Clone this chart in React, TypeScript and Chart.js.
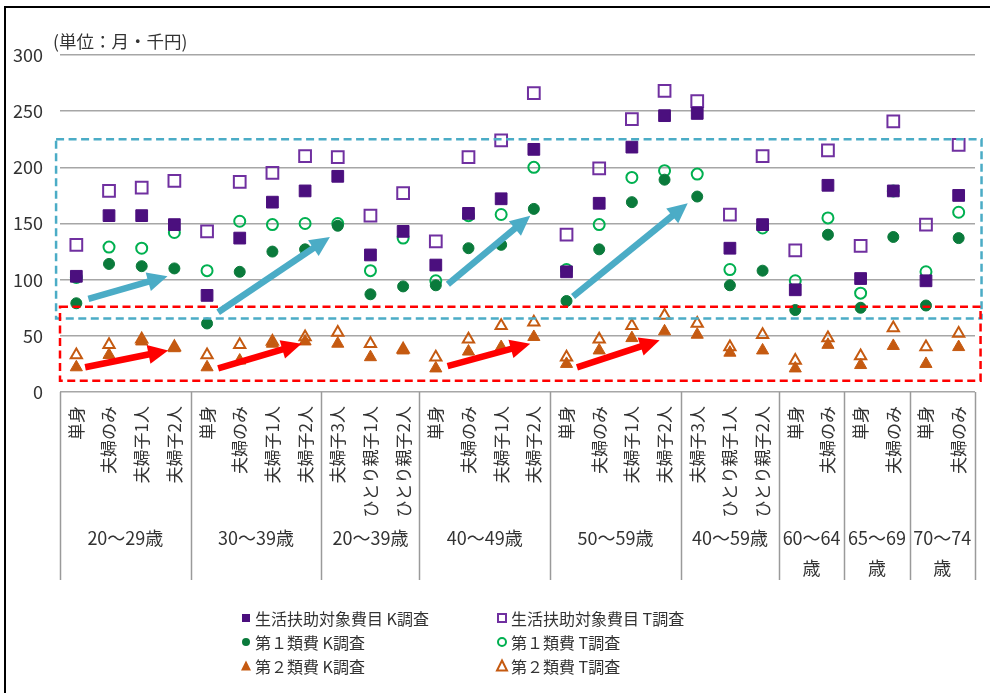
import React, { useEffect, useRef } from "react";
import { Chart, registerables } from "chart.js";

Chart.register(...registerables);

const categories = [
  "単身", "夫婦のみ", "夫婦子1人", "夫婦子2人",
  "単身", "夫婦のみ", "夫婦子1人", "夫婦子2人",
  "夫婦子3人", "ひとり親子1人", "ひとり親子2人",
  "単身", "夫婦のみ", "夫婦子1人", "夫婦子2人",
  "単身", "夫婦のみ", "夫婦子1人", "夫婦子2人",
  "夫婦子3人", "ひとり親子1人", "ひとり親子2人",
  "単身", "夫婦のみ",
  "単身", "夫婦のみ",
  "単身", "夫婦のみ",
];
const groupNames = ["20～29歳", "30～39歳", "20～39歳", "40～49歳", "50～59歳", "40～59歳", "60～64歳", "65～69歳", "70～74歳"];
const groupSizes = [4, 4, 3, 4, 4, 3, 2, 2, 2];

const seriesNames = [
  "生活扶助対象費目 K調査",
  "生活扶助対象費目 T調査",
  "第１類費 K調査",
  "第１類費 T調査",
  "第２類費 K調査",
  "第２類費 T調査",
];

const livingK = [103, 157, 157, 149, 86, 137, 169, 179, 192, 122, 143, 113, 159, 172, 216, 107, 168, 218, 246, 248, 128, 149, 91, 184, 101, 179, 99, 175];
const livingT = [131, 179, 182, 188, 143, 187, 195, 210, 209, 157, 177, 134, 209, 224, 266, 140, 199, 243, 268, 259, 158, 210, 126, 215, 130, 241, 149, 220];
const class1K = [79, 114, 112, 110, 61, 107, 125, 127, 148, 87, 94, 95, 128, 131, 163, 81, 127, 169, 189, 174, 95, 108, 73, 140, 75, 138, 77, 137];
const class1T = [102, 129, 128, 142, 108, 152, 149, 150, 150, 108, 137, 99, 157, 158, 200, 109, 149, 191, 197, 194, 109, 146, 99, 155, 88, 179, 107, 160];
const class2K = [22, 33, 45, 39, 22, 28, 43, 45, 43, 31, 37, 21, 36, 40, 49, 25, 37, 48, 54, 51, 35, 37, 21, 42, 24, 41, 25, 40];
const class2T = [33, 42, 47, 40, 33, 42, 45, 49, 53, 43, 38, 31, 47, 59, 62, 31, 47, 59, 68, 61, 40, 51, 28, 48, 32, 57, 40, 52];

const yMin = 0;
const yMax = 300;
const yStep = 50;
const unitLabel = "(単位：月・千円)";

// annotations in data space: [x0, y0, x1, y1]
const blueBox = [-0.62, 225, 27.7, 65.4];
const redBox = [-0.5, 76, 27.67, 10];
const blueArrows = [
  [0.37, 83, 2.79, 103],
  [4.34, 71, 7.76, 138],
  [11.37, 96, 13.89, 157],
  [15.2, 85, 18.71, 168],
];
const redArrows = [
  [0.27, 22, 2.81, 37],
  [4.34, 21, 6.89, 43],
  [11.36, 23, 13.89, 43],
  [15.32, 22, 17.85, 46],
];

const FONT = '"Noto Sans CJK JP", "Noto Sans", sans-serif';
const TEXT = "#333333";
const BLUE = "#4BACC6";
const RED = "#FF0000";

const toPts = (arr: number[]) => arr.map((v, i) => ({ x: i, y: v }));

function drawMarker(ctx: CanvasRenderingContext2D, style: string, filled: boolean, color: string, x: number, y: number, s: number) {
  ctx.save();
  ctx.fillStyle = color;
  ctx.strokeStyle = color;
  ctx.lineWidth = 2;
  ctx.beginPath();
  if (style === "rect") {
    ctx.rect(x - s / 2, y - s / 2, s, s);
  } else if (style === "circle") {
    ctx.arc(x, y, s / 2, 0, Math.PI * 2);
  } else {
    ctx.moveTo(x, y - s * 0.55);
    ctx.lineTo(x + s / 2, y + s * 0.45);
    ctx.lineTo(x - s / 2, y + s * 0.45);
    ctx.closePath();
  }
  if (filled) ctx.fill();
  else ctx.stroke();
  ctx.restore();
}

const overlayPlugin = {
  id: "overlay",
  afterDatasetsDraw(chart: any) {
    const ctx: CanvasRenderingContext2D = chart.ctx;
    const xs = chart.scales.x;
    const ys = chart.scales.y;
    const px = (v: number) => xs.getPixelForValue(v);
    const py = (v: number) => ys.getPixelForValue(v);

    const box = (b: number[], color: string) => {
      ctx.save();
      ctx.strokeStyle = color;
      ctx.lineWidth = 2.5;
      ctx.setLineDash([8, 4.5]);
      const x0 = px(b[0]), y0 = py(b[1]), x1 = px(b[2]), y1 = py(b[3]);
      ctx.strokeRect(x0, y0, x1 - x0, y1 - y0);
      ctx.restore();
    };
    box(blueBox, BLUE);
    box(redBox, RED);

    const arrow = (a: number[], color: string) => {
      const x0 = px(a[0]), y0 = py(a[1]), x1 = px(a[2]), y1 = py(a[3]);
      const dx = x1 - x0, dy = y1 - y0;
      const len = Math.hypot(dx, dy);
      const ux = dx / len, uy = dy / len;
      const head = 20, half = 9.5;
      const bx = x1 - ux * head, by = y1 - uy * head;
      ctx.save();
      ctx.strokeStyle = color;
      ctx.fillStyle = color;
      ctx.lineWidth = 6.5;
      ctx.beginPath();
      ctx.moveTo(x0, y0);
      ctx.lineTo(bx + ux * 2, by + uy * 2);
      ctx.stroke();
      ctx.beginPath();
      ctx.moveTo(x1, y1);
      ctx.lineTo(bx - uy * half, by + ux * half);
      ctx.lineTo(bx + uy * half, by - ux * half);
      ctx.closePath();
      ctx.fill();
      ctx.restore();
    };
    blueArrows.forEach((a) => arrow(a, BLUE));
    redArrows.forEach((a) => arrow(a, RED));
  },
  afterDraw(chart: any) {
    const ctx: CanvasRenderingContext2D = chart.ctx;
    const xs = chart.scales.x;
    const area = chart.chartArea;
    const catW = (area.right - area.left) / categories.length;
    const axisY = area.bottom;

    ctx.save();
    // outer frame (top and left visible)
    ctx.fillStyle = "#000";
    ctx.fillRect(4, 6, chart.width - 4, 2);
    ctx.fillRect(4, 6, 2, chart.height - 6);

    // unit label
    ctx.fillStyle = TEXT;
    ctx.font = `17.5px ${FONT}`;
    ctx.textAlign = "left";
    ctx.textBaseline = "middle";
    ctx.fillText(unitLabel, 53, 41);

    // category labels (rotated)
    ctx.font = `17px ${FONT}`;
    categories.forEach((c, i) => {
      const x = xs.getPixelForValue(i);
      ctx.save();
      ctx.translate(x, axisY + 14);
      ctx.rotate(-Math.PI / 2);
      ctx.textAlign = "right";
      ctx.textBaseline = "middle";
      ctx.fillText(c, 0, 0);
      ctx.restore();
    });

    // group separators and labels
    ctx.strokeStyle = "#9a9a9a";
    ctx.lineWidth = 1.5;
    let k = 0;
    const sepBottom = axisY + 188;
    const drawSep = (idx: number) => {
      const x = Math.round(area.left + idx * catW) + 0.5;
      ctx.beginPath();
      ctx.moveTo(x, axisY);
      ctx.lineTo(x, sepBottom);
      ctx.stroke();
    };
    drawSep(0);
    ctx.font = `18px ${FONT}`;
    ctx.textAlign = "center";
    ctx.textBaseline = "middle";
    groupNames.forEach((g, gi) => {
      const n = groupSizes[gi];
      const cx = area.left + (k + n / 2) * catW;
      const w = n * catW;
      if (ctx.measureText(g).width > w - 2) {
        const l1 = g.slice(0, g.length - 1);
        const l2 = g.slice(g.length - 1);
        ctx.fillText(l1, cx, axisY + 146);
        ctx.fillText(l2, cx, axisY + 176);
      } else {
        ctx.fillText(g, cx, axisY + 146);
      }
      k += n;
      drawSep(k);
    });

    // legend
    const ds = chart.data.datasets;
    const colX = [246, 502];
    const rowY = [618, 642, 666];
    ctx.font = `16px ${FONT}`;
    ctx.textAlign = "left";
    ctx.textBaseline = "middle";
    ds.forEach((d: any, i: number) => {
      const col = i % 2;
      const row = Math.floor(i / 2);
      const x = colX[col];
      const y = rowY[row];
      const filled = d.backgroundColor !== "transparent";
      drawMarker(ctx, d.pointStyle, filled, d.borderColor, x, y, d.pointStyle === "triangle" ? 10 : 8);
      ctx.fillStyle = TEXT;
      ctx.fillText(seriesNames[i], x + 9, y + 1);
    });
    ctx.restore();
  },
};

export default function App() {
  const ref = useRef<HTMLCanvasElement | null>(null);
  useEffect(() => {
    document.body.style.margin = "0";
    if (!ref.current) return;
    const chart = new Chart(ref.current, {
      type: "scatter",
      data: {
        datasets: [
          { label: seriesNames[0], data: toPts(livingK), pointStyle: "rect", pointRadius: 8.3, backgroundColor: "#4B0F7E", borderColor: "#4B0F7E", borderWidth: 1 },
          { label: seriesNames[1], data: toPts(livingT), pointStyle: "rect", pointRadius: 8.3, backgroundColor: "transparent", borderColor: "#7030A0", borderWidth: 2 },
          { label: seriesNames[2], data: toPts(class1K), pointStyle: "circle", pointRadius: 5.5, backgroundColor: "#0A7A3B", borderColor: "#0A7A3B", borderWidth: 1 },
          { label: seriesNames[3], data: toPts(class1T), pointStyle: "circle", pointRadius: 5.5, backgroundColor: "transparent", borderColor: "#00B050", borderWidth: 2 },
          { label: seriesNames[4], data: toPts(class2K), pointStyle: "triangle", pointRadius: 7, backgroundColor: "#C55A11", borderColor: "#C55A11", borderWidth: 1 },
          { label: seriesNames[5], data: toPts(class2T), pointStyle: "triangle", pointRadius: 6.5, backgroundColor: "transparent", borderColor: "#C55A11", borderWidth: 2 },
        ] as any,
      },
      options: {
        animation: false,
        responsive: false,
        layout: { padding: { left: 0, top: 55, right: 15, bottom: 301 } },
        plugins: { legend: { display: false }, tooltip: { enabled: false } },
        scales: {
          x: { type: "linear", min: -0.5, max: categories.length - 0.5, display: false },
          y: {
            min: yMin,
            max: yMax,
            ticks: { stepSize: yStep, color: TEXT, font: { family: FONT, size: 18 }, padding: 17 },
            grid: { color: "#a6a6a6", lineWidth: 1.5, drawTicks: false },
            border: { display: false },
            afterFit: (s: any) => { s.width = 60; },
          },
        },
      } as any,
      plugins: [overlayPlugin],
    });
    return () => chart.destroy();
  }, []);
  return <canvas ref={ref} width={990} height={693} style={{ display: "block" }} />;
}
